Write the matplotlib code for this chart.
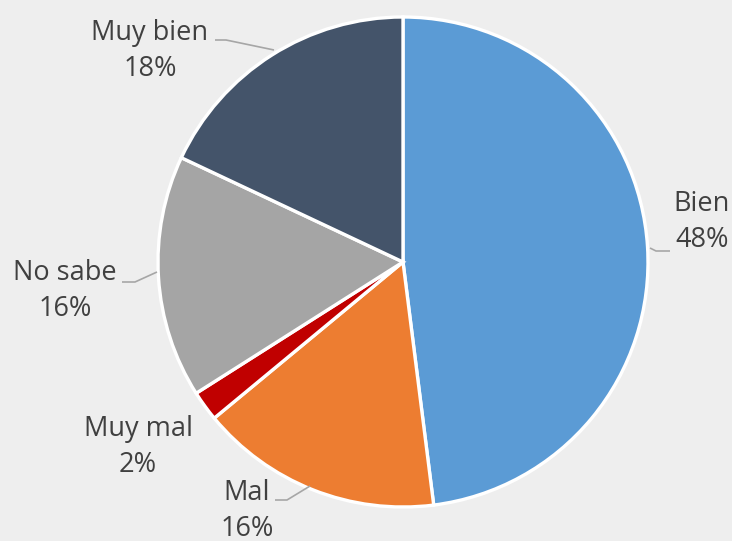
import matplotlib
matplotlib.use("Agg")
import matplotlib.pyplot as plt

categories = ["Bien", "Mal", "Muy mal", "No sabe", "Muy bien"]
values = [48, 16, 2, 16, 18]
colors = ["#5B9BD5", "#ED7D31", "#C00000", "#A5A5A5", "#44546A"]

W, H = 732, 541
# label centers (pixel coords, y from top) and leader lines
label_pos = {"Bien": (702, 222), "Mal": (247, 511), "Muy mal": (138, 447),
             "No sabe": (65, 291), "Muy bien": (150, 51)}
leaders = {"Bien": [(650, 248), (656, 251), (670, 251)],
           "Mal": [(275, 500), (287, 500), (310, 486)],
           "No sabe": [(122, 282), (135, 282), (157, 272)],
           "Muy bien": [(215, 40), (226, 40), (274, 50)]}

plt.rcParams['font.family'] = ['Open Sans', 'DejaVu Sans']
fig = plt.figure(figsize=(W / 100, H / 100), dpi=100)
fig.patch.set_facecolor("#EEEEEE")
ax = fig.add_axes([0, 0, 1, 1])

cx, cy, r = 403, 262, 245
ax.pie(values, colors=colors, startangle=90, counterclock=False,
       center=(cx, H - cy), radius=r, frame=True,
       wedgeprops=dict(edgecolor="white", linewidth=2.4))
ax.set_xlim(0, W)
ax.set_ylim(0, H)
ax.set_aspect("equal")
ax.axis("off")

for cat, v in zip(categories, values):
    x, y = label_pos[cat]
    ax.text(x, H - y, f"{cat}\n{v}%", ha="center", va="center",
            fontsize=19.5, color="#404040", linespacing=1.38)
    if cat in leaders:
        pts = leaders[cat]
        ax.plot([p[0] for p in pts], [H - p[1] for p in pts],
                color="#A6A6A6", lw=1.2, solid_capstyle="butt")

fig.savefig("out.png", dpi=100, facecolor=fig.get_facecolor())
